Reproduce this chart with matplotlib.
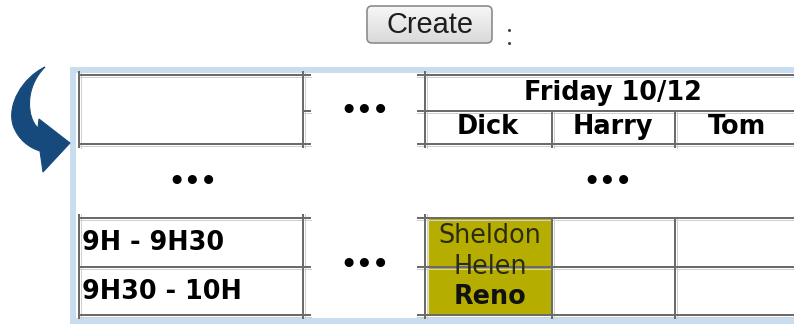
# recreate the "Create" + planning table screenshot

import numpy as np
import matplotlib.pyplot as plt
from matplotlib.colors import LinearSegmentedColormap
from matplotlib.patches import Rectangle, FancyBboxPatch, PathPatch
from matplotlib.path import Path

# data
day_label = 'Friday 10/12'
people = ['Dick', 'Harry', 'Tom']
slots = ['9H - 9H30', '9H30 - 10H']
booking = ['Sheldon', 'Helen', 'Reno']
booking_bold = [False, False, True]
button_label = 'Create'

# layout (pixels)
W, H = 794, 324
left_x = (79, 303)
mid_dots_x = 365
right_x = [425, 552, 675, 800]
people_cx = [488, 613, 737]
head_y = [75, 111, 144]
body_y = [218, 267, 315]

line_col = '#6b6b6b'
blue_frame = '#c9ddf1'
arrow_col = '#174a7c'
yellow = '#b5ad00'

fig = plt.figure(figsize=(W / 100, H / 100), dpi=100)
ax = fig.add_axes([0, 0, 1, 1])
ax.set_xlim(0, W)
ax.set_ylim(H, 0)
ax.axis('off')

px = 72 / 100  # points per pixel
fs = 25.5 * px

# button with a soft gradient
grad = np.linspace(0, 1, 50).reshape(-1, 1)
btn = FancyBboxPatch((367, 6), 125, 37, boxstyle='round,pad=0,rounding_size=5',
                     fc='none', ec='#8c8c8c', lw=1.2, zorder=3)
ax.add_patch(btn)
im = ax.imshow(grad, cmap=LinearSegmentedColormap.from_list('b', ['#f7f7f7', '#d9d9d9']),
               extent=(367, 492, 43, 6), aspect='auto', zorder=2)
im.set_clip_path(btn)
ax.text(430, 25, button_label, fontsize=29 * px, family='Liberation Sans',
        color='#1e1e1e', ha='center', va='center', zorder=4)
ax.plot([509, 509], [30, 43], ls='none', marker='o', ms=1.2, color='#444444')

# light blue frame
ax.add_patch(Rectangle((70, 67), W, H, fc=blue_frame, ec='none', zorder=0))
ax.add_patch(Rectangle((76, 73), W, 245, fc='white', ec='none', zorder=0))

# curved arrow
verts = [(45, 67),
         (22, 78), (7, 105), (13, 125),
         (18, 140), (30, 148), (40, 151),
         (43, 172), (70, 143), (39, 119), (38, 128),
         (27, 118), (24, 88), (45, 67),
         (45, 67)]
codes = ([Path.MOVETO] + [Path.CURVE4] * 6 + [Path.LINETO] * 4
         + [Path.CURVE4] * 3 + [Path.CLOSEPOLY])
ax.add_patch(PathPatch(Path(verts, codes), fc=arrow_col, ec=arrow_col, lw=0.8, zorder=2))


def hline(y, x0, x1):
    ax.plot([x0, x1], [y, y], color=line_col, lw=2 * px, solid_capstyle='butt', zorder=3)
    ax.plot([x0, x1], [y + 1.5, y + 1.5], color='#d0d0d0', lw=1 * px, zorder=2)


def vline(x, y0, y1):
    ax.plot([x, x], [y0, y1], color=line_col, lw=2 * px, solid_capstyle='butt', zorder=3)
    ax.plot([x + 1.5, x + 1.5], [y0, y1], color='#d0d0d0', lw=1 * px, zorder=2)


# booked cell
ax.add_patch(Rectangle((right_x[0] + 3, body_y[0]), right_x[1] - right_x[0] - 3,
                       body_y[2] - body_y[0], fc=yellow, ec='#e6e2a8', lw=0.8, zorder=1))

for ys in (head_y, body_y):
    # left block
    for y in ys:
        if ys is head_y and y == head_y[1]:
            hline(y, left_x[1], left_x[1] + 8)
        else:
            hline(y, left_x[0], left_x[1] + 8)
    vline(left_x[0], ys[0] - 4, ys[-1] + 4)
    vline(left_x[1], ys[0] - 4, ys[-1] + 4)
    # right block
    for y in ys:
        hline(y, right_x[0] - 8, W)
    vline(right_x[0], ys[0] - 4, ys[-1] + 4)
    for x in right_x[1:3]:
        y_top = head_y[1] if ys is head_y else ys[0]
        vline(x, y_top, ys[-1] + 4)

ax.text(613, 93, day_label, fontsize=fs, weight='bold', ha='center', va='center', zorder=4)
for cx, name in zip(people_cx, people):
    ax.text(cx, 127, name, fontsize=fs, weight='bold', ha='center', va='center', zorder=4)

for i, s in enumerate(slots):
    ax.text(left_x[0] + 3, (body_y[i] + body_y[i + 1]) / 2 + 1, s, fontsize=fs,
            weight='bold', ha='left', va='center', zorder=4)

by = [236, 267, 297]
for y, b, bold in zip(by, booking, booking_bold):
    ax.text(490, y, b, fontsize=fs, weight='bold' if bold else 'normal',
            color='#111111' if bold else '#2b2b10', ha='center', va='center', zorder=4)

# ellipsis markers
for x, y in [(mid_dots_x, 112), (193, 183), (608, 183), (mid_dots_x, 266)]:
    ax.text(x, y, '\u2022\u2022\u2022', fontsize=fs, weight='bold', ha='center',
            va='center', zorder=4)

fig.savefig('out.png', dpi=100)
